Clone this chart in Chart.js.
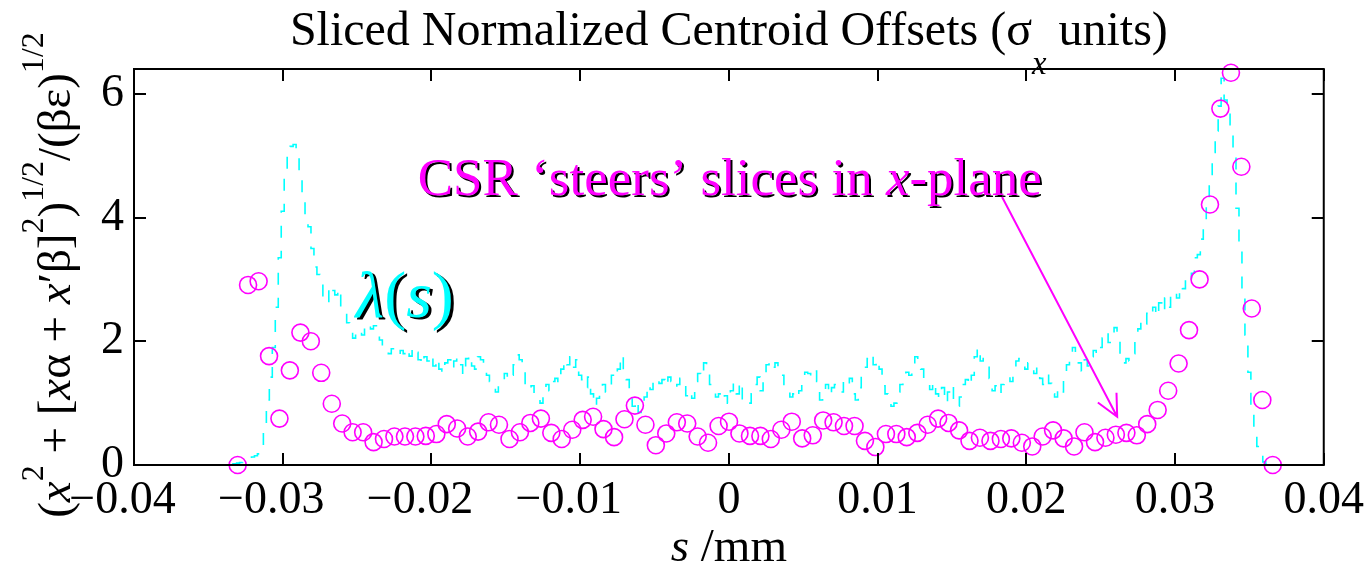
<!DOCTYPE html>
<html>
<head>
<meta charset="utf-8">
<script src="https://cdn.jsdelivr.net/npm/chart.js@4.4.1/dist/chart.umd.min.js"></script>
<style>
  html, body { margin: 0; padding: 0; background: #fff; }
  #wrap { width: 1372px; height: 574px; position: relative; }
</style>
</head>
<body>
<div id="wrap"><canvas id="c" width="1372" height="574"></canvas></div>
<script>
// Axis ticks
const xTicks = [-0.04, -0.03, -0.02, -0.01, 0, 0.01, 0.02, 0.03, 0.04];
const yTicks = [0, 2, 4, 6];

// Slice centres (mm) and normalized centroid offsets (sigma_x units)
const sliceS = [
  -0.03303, -0.03233, -0.03162, -0.03092, -0.03022, -0.02952, -0.02881, -0.02811, -0.02741, -0.02670,
  -0.02600, -0.02530, -0.02459, -0.02389, -0.02319, -0.02249, -0.02178, -0.02108, -0.02038, -0.01967,
  -0.01897, -0.01827, -0.01756, -0.01686, -0.01616, -0.01546, -0.01475, -0.01405, -0.01335, -0.01264,
  -0.01194, -0.01124, -0.01053, -0.00983, -0.00913, -0.00843, -0.00772, -0.00702, -0.00632, -0.00561,
  -0.00491, -0.00421, -0.00350, -0.00280, -0.00210, -0.00140, -0.00069, 0.00001, 0.00071, 0.00142,
  0.00212, 0.00282, 0.00353, 0.00423, 0.00493, 0.00564, 0.00634, 0.00704, 0.00774, 0.00845,
  0.00915, 0.00985, 0.01056, 0.01126, 0.01196, 0.01267, 0.01337, 0.01407, 0.01477, 0.01548,
  0.01618, 0.01688, 0.01759, 0.01829, 0.01899, 0.01970, 0.02040, 0.02110, 0.02180, 0.02251,
  0.02321, 0.02391, 0.02462, 0.02532, 0.02602, 0.02673, 0.02743, 0.02813, 0.02883, 0.02954,
  0.03024, 0.03094, 0.03165, 0.03235, 0.03305, 0.03376, 0.03446, 0.03516, 0.03587, 0.03657
];
const sliceOffset = [
  0.00, 2.91, 2.97, 1.76, 0.75, 1.53, 2.14, 2.00, 1.49, 0.99,
  0.67, 0.53, 0.53, 0.37, 0.42, 0.46, 0.46, 0.46, 0.47, 0.50,
  0.66, 0.59, 0.46, 0.54, 0.69, 0.65, 0.42, 0.53, 0.68, 0.75,
  0.52, 0.42, 0.57, 0.73, 0.78, 0.58, 0.45, 0.74, 0.96, 0.65,
  0.32, 0.51, 0.69, 0.67, 0.46, 0.36, 0.63, 0.70, 0.51, 0.47,
  0.47, 0.42, 0.57, 0.70, 0.43, 0.48, 0.72, 0.69, 0.63, 0.63,
  0.39, 0.29, 0.50, 0.50, 0.45, 0.52, 0.65, 0.75, 0.68, 0.56,
  0.39, 0.44, 0.39, 0.42, 0.43, 0.36, 0.30, 0.46, 0.56, 0.43,
  0.30, 0.53, 0.37, 0.44, 0.49, 0.52, 0.48, 0.66, 0.89, 1.20,
  1.64, 2.18, 3.00, 4.21, 5.76, 6.34, 4.82, 2.53, 1.05, 0.00
];

// Line density lambda(s), arbitrary units on the same axis
const lambdaS = [
  -0.0334, -0.0332, -0.0330, -0.0328, -0.0326, -0.0324, -0.0322, -0.0320, -0.0318, -0.0316,
  -0.0314, -0.0312, -0.0310, -0.0308, -0.0306, -0.0304, -0.0302, -0.0300, -0.0298, -0.0296,
  -0.0294, -0.0292, -0.0290, -0.0288, -0.0286, -0.0284, -0.0282, -0.0280, -0.0278, -0.0276,
  -0.0274, -0.0272, -0.0270, -0.0268, -0.0266, -0.0264, -0.0262, -0.0260, -0.0258, -0.0256,
  -0.0254, -0.0252, -0.0250, -0.0248, -0.0246, -0.0244, -0.0242, -0.0240, -0.0238, -0.0236,
  -0.0234, -0.0232, -0.0230, -0.0228, -0.0226, -0.0224, -0.0222, -0.0220, -0.0218, -0.0216,
  -0.0214, -0.0212, -0.0210, -0.0208, -0.0206, -0.0204, -0.0202, -0.0200, -0.0198, -0.0196,
  -0.0194, -0.0192, -0.0190, -0.0188, -0.0186, -0.0184, -0.0182, -0.0180, -0.0178, -0.0176,
  -0.0174, -0.0172, -0.0170, -0.0168, -0.0166, -0.0164, -0.0162, -0.0160, -0.0158, -0.0156,
  -0.0154, -0.0152, -0.0150, -0.0148, -0.0146, -0.0144, -0.0142, -0.0140, -0.0138, -0.0136,
  -0.0134, -0.0132, -0.0130, -0.0128, -0.0126, -0.0124, -0.0122, -0.0120, -0.0118, -0.0116,
  -0.0114, -0.0112, -0.0110, -0.0108, -0.0106, -0.0104, -0.0102, -0.0100, -0.0098, -0.0096,
  -0.0094, -0.0092, -0.0090, -0.0088, -0.0086, -0.0084, -0.0082, -0.0080, -0.0078, -0.0076,
  -0.0074, -0.0072, -0.0070, -0.0068, -0.0066, -0.0064, -0.0062, -0.0060, -0.0058, -0.0056,
  -0.0054, -0.0052, -0.0050, -0.0048, -0.0046, -0.0044, -0.0042, -0.0040, -0.0038, -0.0036,
  -0.0034, -0.0032, -0.0030, -0.0028, -0.0026, -0.0024, -0.0022, -0.0020, -0.0018, -0.0016,
  -0.0014, -0.0012, -0.0010, -0.0008, -0.0006, -0.0004, -0.0002, 0.0000, 0.0002, 0.0004,
  0.0006, 0.0008, 0.0010, 0.0012, 0.0014, 0.0016, 0.0018, 0.0020, 0.0022, 0.0024,
  0.0026, 0.0028, 0.0030, 0.0032, 0.0034, 0.0036, 0.0038, 0.0040, 0.0042, 0.0044,
  0.0046, 0.0048, 0.0050, 0.0052, 0.0054, 0.0056, 0.0058, 0.0060, 0.0062, 0.0064,
  0.0066, 0.0068, 0.0070, 0.0072, 0.0074, 0.0076, 0.0078, 0.0080, 0.0082, 0.0084,
  0.0086, 0.0088, 0.0090, 0.0092, 0.0094, 0.0096, 0.0098, 0.0100, 0.0102, 0.0104,
  0.0106, 0.0108, 0.0110, 0.0112, 0.0114, 0.0116, 0.0118, 0.0120, 0.0122, 0.0124,
  0.0126, 0.0128, 0.0130, 0.0132, 0.0134, 0.0136, 0.0138, 0.0140, 0.0142, 0.0144,
  0.0146, 0.0148, 0.0150, 0.0152, 0.0154, 0.0156, 0.0158, 0.0160, 0.0162, 0.0164,
  0.0166, 0.0168, 0.0170, 0.0172, 0.0174, 0.0176, 0.0178, 0.0180, 0.0182, 0.0184,
  0.0186, 0.0188, 0.0190, 0.0192, 0.0194, 0.0196, 0.0198, 0.0200, 0.0202, 0.0204,
  0.0206, 0.0208, 0.0210, 0.0212, 0.0214, 0.0216, 0.0218, 0.0220, 0.0222, 0.0224,
  0.0226, 0.0228, 0.0230, 0.0232, 0.0234, 0.0236, 0.0238, 0.0240, 0.0242, 0.0244,
  0.0246, 0.0248, 0.0250, 0.0252, 0.0254, 0.0256, 0.0258, 0.0260, 0.0262, 0.0264,
  0.0266, 0.0268, 0.0270, 0.0272, 0.0274, 0.0276, 0.0278, 0.0280, 0.0282, 0.0284,
  0.0286, 0.0288, 0.0290, 0.0292, 0.0294, 0.0296, 0.0298, 0.0300, 0.0302, 0.0304,
  0.0306, 0.0308, 0.0310, 0.0312, 0.0314, 0.0316, 0.0318, 0.0320, 0.0322, 0.0324,
  0.0326, 0.0328, 0.0330, 0.0332, 0.0334, 0.0336, 0.0338, 0.0340, 0.0342, 0.0344,
  0.0346, 0.0348, 0.0350, 0.0352, 0.0354, 0.0356, 0.0358, 0.0360, 0.0362, 0.0364,
  0.0366, 0.0368, 0.0370
];
const lambdaV = [
  0.02, 0.02, 0.03, 0.04, 0.05, 0.08, 0.10, 0.13, 0.15, 0.18,
  0.22, 0.55, 1.05, 1.42, 1.90, 2.55, 3.35, 4.10, 4.70, 5.05,
  5.15, 5.18, 5.05, 4.75, 4.30, 4.05, 3.85, 3.50, 3.20, 3.08,
  2.98, 2.72, 2.62, 2.90, 2.82, 2.75, 2.85, 2.55, 2.48, 2.30,
  2.15, 2.05, 2.12, 2.18, 2.10, 2.22, 2.28, 2.20, 2.25, 2.10,
  2.02, 1.92, 1.85, 1.80, 1.88, 1.82, 1.78, 1.85, 1.80, 1.88,
  1.76, 1.90, 1.82, 1.70, 1.62, 1.75, 1.68, 1.78, 1.60, 1.72,
  1.55, 1.48, 1.65, 1.70, 1.55, 1.68, 1.75, 1.62, 1.45, 1.72,
  1.78, 1.60, 1.55, 1.75, 1.70, 1.58, 1.45, 1.35, 1.22, 1.18,
  1.30, 1.40, 1.48, 1.38, 1.45, 1.62, 1.78, 1.70, 1.58, 1.30,
  1.22, 1.28, 1.15, 1.05, 1.00, 1.15, 1.30, 1.20, 1.35, 1.40,
  1.32, 1.55, 1.70, 1.62, 1.75, 1.58, 1.70, 1.45, 1.38, 1.25,
  1.42, 1.15, 0.95, 1.08, 1.20, 1.30, 1.18, 1.25, 1.45, 1.40,
  1.55, 1.78, 1.48, 1.38, 1.10, 0.95, 1.05, 0.85, 0.95, 1.10,
  1.30, 1.22, 1.35, 1.40, 1.32, 1.38, 1.28, 1.42, 1.35, 1.25,
  1.30, 1.40, 1.30, 1.12, 1.20, 1.08, 1.35, 1.48, 1.42, 1.65,
  1.55, 1.30, 1.20, 1.10, 1.15, 1.05, 1.12, 1.00, 1.20, 1.32,
  1.15, 1.35, 1.05, 0.98, 1.00, 1.15, 1.30, 1.42, 1.20, 1.35,
  1.62, 1.68, 1.58, 1.65, 1.52, 1.45, 1.30, 1.18, 1.10, 1.15,
  1.08, 1.20, 1.38, 1.50, 1.48, 1.42, 1.52, 1.35, 1.05, 1.20,
  1.30, 1.12, 1.25, 1.30, 1.22, 1.18, 1.35, 1.28, 1.40, 1.15,
  1.05, 1.25, 1.45, 1.58, 1.72, 1.80, 1.62, 1.70, 1.55, 1.28,
  1.15, 1.05, 0.95, 1.00, 1.18, 1.30, 1.38, 1.50, 1.45, 1.52,
  1.75, 1.65, 1.55, 1.40, 1.30, 1.22, 1.35, 1.15, 1.08, 1.25,
  1.00, 1.18, 1.30, 1.05, 0.95, 1.10, 1.30, 1.38, 1.28, 1.45,
  1.75, 1.90, 1.68, 1.72, 1.60, 1.40, 1.20, 1.28, 1.15, 1.30,
  1.36, 1.42, 1.35, 1.55, 1.68, 1.72, 1.60, 1.55, 1.65, 1.55,
  1.48, 1.58, 1.40, 1.30, 1.45, 1.32, 1.15, 1.10, 1.25, 1.18,
  1.45, 1.62, 1.70, 1.90, 1.82, 1.65, 1.52, 1.70, 1.60, 1.75,
  1.85, 1.78, 1.90, 2.05, 2.15, 1.98, 2.10, 2.22, 2.05, 1.78,
  1.65, 1.72, 1.68, 1.80, 2.05, 2.20, 2.35, 2.28, 2.45, 2.40,
  2.55, 2.40, 2.62, 2.48, 2.70, 2.55, 2.75, 2.80, 2.70, 2.90,
  2.85, 3.00, 2.95, 3.10, 3.35, 3.40, 3.65, 3.90, 4.20, 4.65,
  5.05, 5.40, 5.80, 6.25, 5.90, 5.75, 5.50, 5.00, 4.15, 3.55,
  2.85, 2.10, 1.50, 0.90, 0.50, 0.30, 0.15, 0.05, 0.02, 0.01,
  0.00, 0.00, 0.00
];

// Annotation anchors in data units
const csrLabelAt = { s: -0.02092, v: 4.36 };
const lambdaLabelAt = { s: -0.02510, v: 2.40 };
const arrowFrom = { s: 0.01837, v: 4.33 };
const arrowTo = { s: 0.02611, v: 0.78 };

const SERIF = '"Liberation Serif", "Times New Roman", serif';
const FS = 46;
const CYAN = '#00ffff';
const MAGENTA = '#ff00ff';

// Measures a row of styled runs (italic / superscript / subscript)
function runsWidth(ctx, runs, size) {
  let total = 0;
  const fonts = runs.map(r => {
    const fs = (r.sup || r.sub) ? size * 0.68 : size;
    const f = (r.it ? 'italic ' : '') + fs + 'px ' + SERIF;
    ctx.font = f;
    const w = ctx.measureText(r.t).width;
    total += w;
    return { f, w };
  });
  return { total, fonts };
}
// Draws the runs on a shared baseline at y, starting at x (or centred on x)
function drawRuns(ctx, runs, x, y, size, center) {
  const { total, fonts } = runsWidth(ctx, runs, size);
  let cx = center ? x - total / 2 : x;
  ctx.textAlign = 'left';
  ctx.textBaseline = 'alphabetic';
  runs.forEach((r, i) => {
    ctx.font = fonts[i].f;
    const dy = r.sup ? -size * (r.raise || 0.6) : r.sub ? size * (r.drop || 0.55) : 0;
    ctx.fillText(r.t, cx, y + dy);
    cx += fonts[i].w;
  });
}

const frameAndText = {
  id: 'frameAndText',
  afterDatasetsDraw(chart) {
    const { ctx, scales: { x, y } } = chart;
    // Annotations with a black drop shadow
    ctx.save();
    ctx.shadowColor = '#000';
    ctx.shadowOffsetX = 2;
    ctx.shadowOffsetY = 2;
    ctx.shadowBlur = 0;
    ctx.fillStyle = MAGENTA;
    drawRuns(ctx, [
      { t: 'CSR \u2018steers\u2019 slices in ' },
      { t: 'x', it: true },
      { t: '-plane' }
    ], x.getPixelForValue(csrLabelAt.s), y.getPixelForValue(csrLabelAt.v), 53, false);
    ctx.shadowOffsetX = 3;
    ctx.shadowOffsetY = 2;
    ctx.fillStyle = CYAN;
    drawRuns(ctx, [
      { t: '\u03bb', it: true },
      { t: '(' },
      { t: 's', it: true },
      { t: ')' }
    ], x.getPixelForValue(lambdaLabelAt.s), y.getPixelForValue(lambdaLabelAt.v), 66, false);
    ctx.restore();

    // Arrow from the annotation down to the slices
    const x0 = x.getPixelForValue(arrowFrom.s), y0 = y.getPixelForValue(arrowFrom.v);
    const x1 = x.getPixelForValue(arrowTo.s), y1 = y.getPixelForValue(arrowTo.v);
    const ang = Math.atan2(y0 - y1, x0 - x1);
    const head = 24, spread = 26 * Math.PI / 180;
    ctx.save();
    ctx.strokeStyle = MAGENTA;
    ctx.lineWidth = 2;
    ctx.beginPath();
    ctx.moveTo(x0, y0); ctx.lineTo(x1, y1);
    ctx.moveTo(x1 + head * Math.cos(ang - spread), y1 + head * Math.sin(ang - spread));
    ctx.lineTo(x1, y1);
    ctx.lineTo(x1 + head * Math.cos(ang + spread), y1 + head * Math.sin(ang + spread));
    ctx.stroke();
    ctx.restore();
  },
  afterDraw(chart) {
    const { ctx, chartArea: a, scales: { x, y } } = chart;
    ctx.save();
    // Box with inward ticks on all four sides
    ctx.strokeStyle = '#000';
    ctx.lineWidth = 2;
    ctx.strokeRect(a.left, a.top, a.right - a.left, a.bottom - a.top);
    const L = 12;
    ctx.beginPath();
    xTicks.forEach(v => {
      const px = Math.round(x.getPixelForValue(v));
      ctx.moveTo(px, a.bottom); ctx.lineTo(px, a.bottom - L);
      ctx.moveTo(px, a.top); ctx.lineTo(px, a.top + L);
    });
    yTicks.forEach(v => {
      const py = Math.round(y.getPixelForValue(v));
      ctx.moveTo(a.left, py); ctx.lineTo(a.left + L, py);
      ctx.moveTo(a.right, py); ctx.lineTo(a.right - L, py);
    });
    ctx.stroke();

    ctx.fillStyle = '#000';
    const cx = (a.left + a.right) / 2;
    // Title
    drawRuns(ctx, [
      { t: 'Sliced Normalized Centroid Offsets (\u03c3' },
      { t: 'x', it: true, sub: true, drop: 0.6 },
      { t: ' units)' }
    ], cx, 45, 48, true);
    // X axis title
    drawRuns(ctx, [
      { t: 's', it: true },
      { t: ' /mm' }
    ], cx, 561, 47, true);
    // Y axis title (rotated)
    ctx.translate(70, (a.top + a.bottom) / 2 + 8);
    ctx.rotate(-Math.PI / 2);
    drawRuns(ctx, [
      { t: '(' },
      { t: 'x', it: true },
      { t: '2', sup: true, raise: 0.58 },
      { t: ' + [' },
      { t: 'x', it: true },
      { t: '\u03b1 + ' },
      { t: 'x', it: true },
      { t: '\u2032\u03b2]' },
      { t: '2', sup: true, raise: 0.58 },
      { t: ')' },
      { t: '1/2', sup: true, raise: 0.58 },
      { t: '/(\u03b2\u03b5)' },
      { t: '1/2', sup: true, raise: 0.58 }
    ], 0, 0, 47, true);
    ctx.restore();
  }
};

const fmtTick = v => {
  if (Math.abs(v) < 1e-9) return '0';
  const s = Math.abs(v).toFixed(2);
  return v < 0 ? '\u2212' + s + '\u2002' : s;
};

new Chart(document.getElementById('c'), {
  data: {
    datasets: [
      {
        type: 'scatter',
        label: 'centroid offset',
        data: sliceS.map((s, i) => ({ x: s, y: sliceOffset[i] })),
        showLine: false,
        pointStyle: 'circle',
        pointRadius: 8.5,
        pointHoverRadius: 8.5,
        pointBorderWidth: 1.6,
        borderColor: MAGENTA,
        pointBorderColor: MAGENTA,
        backgroundColor: 'rgba(0,0,0,0)',
        pointBackgroundColor: 'rgba(0,0,0,0)',
        clip: false,
        order: 1
      },
      {
        type: 'line',
        label: 'lambda(s)',
        data: lambdaS.map((s, i) => ({ x: s, y: lambdaV[i] })),
        borderColor: CYAN,
        borderWidth: 1.6,
        borderDash: [12, 13],
        pointRadius: 0,
        stepped: 'middle',
        fill: false,
        tension: 0,
        clip: false,
        order: 2
      }
    ]
  },
  options: {
    responsive: false,
    animation: false,
    devicePixelRatio: 1,
    layout: { padding: { top: 69, right: 47, bottom: 0, left: 0 } },
    plugins: {
      legend: { display: false },
      title: { display: false },
      tooltip: { enabled: false }
    },
    scales: {
      x: {
        type: 'linear',
        min: -0.04,
        max: 0.04,
        afterBuildTicks: s => { s.ticks = xTicks.map(v => ({ value: v })); },
        afterFit: s => { s.height = 109; },
        grid: { display: false, drawTicks: false },
        border: { display: false },
        ticks: {
          autoSkip: false,
          maxRotation: 0,
          padding: 8,
          color: '#000',
          font: { family: SERIF, size: FS },
          callback: v => fmtTick(v)
        }
      },
      y: {
        type: 'linear',
        min: 0,
        max: 6.4,
        afterBuildTicks: s => { s.ticks = yTicks.map(v => ({ value: v })); },
        afterFit: s => { s.width = 134; },
        grid: { display: false, drawTicks: false },
        border: { display: false },
        ticks: {
          padding: 10,
          color: '#000',
          font: { family: SERIF, size: FS },
          callback: v => String(v)
        }
      }
    }
  },
  plugins: [frameAndText]
});
</script>
</body>
</html>
